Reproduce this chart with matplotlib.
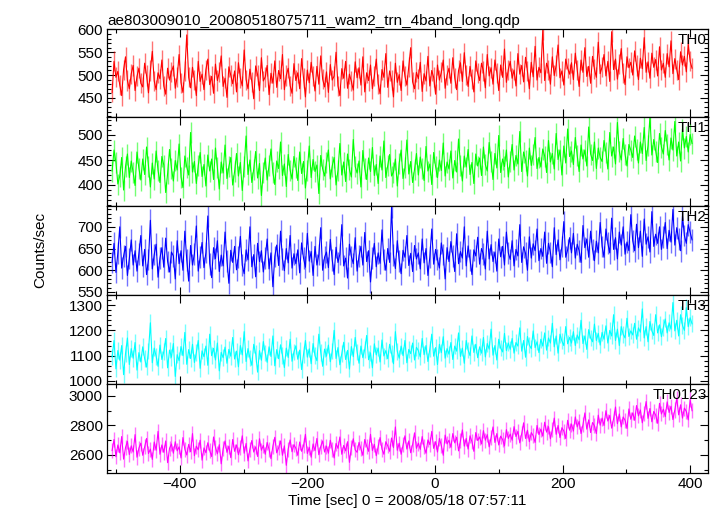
import numpy as np
import matplotlib
matplotlib.use("Agg")
import matplotlib.pyplot as plt
from matplotlib.ticker import MultipleLocator

plt.rcParams['font.family'] = ['Liberation Sans', 'DejaVu Sans']

title = "ae803009010_20080518075711_wam2_trn_4band_long.qdp"
xlabel = "Time [sec] 0 = 2008/05/18 07:57:11"
ylabel = "Counts/sec"
band_names = ["TH0", "TH1", "TH2", "TH3", "TH0123"]

# bin start time, bin step (sec)
t_first, t_step = -506, 3

th0 = [
    462, 530, 495, 508, 478, 455, 512, 540, 488, 470, 503, 521, 466, 497, 515, 482,
    474, 526, 499, 461, 510, 552, 487, 468, 505, 492, 533, 476, 458, 515, 489, 507,
    520, 471, 496, 545, 483, 462, 508, 588, 495, 472, 517, 490, 455, 530, 486, 502,
    468, 512, 535, 479, 497, 460, 524, 488, 506, 542, 475, 493, 451, 518, 499, 481,
    509, 463, 527, 494, 476, 555, 490, 470, 513, 485, 448, 520, 501, 466, 538, 487,
    496, 521, 457, 504, 482, 531, 473, 510, 492, 545, 468, 499, 515, 477, 460, 525,
    488, 505, 470, 536, 494, 452, 511, 483, 528, 497, 465, 519, 480, 542, 491, 474,
    507, 462, 523, 489, 498, 550, 476, 455, 514, 493, 530, 471, 502, 486, 467, 529,
    494, 516, 478, 540, 463, 505, 488, 522, 470, 498, 535, 481, 459, 512, 495, 547,
    473, 509, 490, 452, 526, 484, 501, 466, 531, 497, 478, 518, 560, 485, 470, 506,
    492, 528, 464, 503, 487, 541, 476, 510, 495, 458, 522, 489, 506, 533, 471, 500,
    515, 482, 538, 494, 468, 510, 527, 486, 549, 500, 475, 519, 492, 463, 531, 504,
    488, 526, 509, 472, 545, 498, 516, 480, 533, 505, 466, 522, 495, 557, 484, 512,
    530, 493, 511, 476, 547, 502, 521, 485, 539, 508, 470, 528, 496, 563, 489, 517,
    505, 598, 488, 526, 512, 480, 540, 499, 521, 566, 494, 509, 478, 535, 515, 502,
    527, 490, 548, 511, 475, 533, 506, 560, 497, 519, 482, 541, 513, 495, 572, 503,
    518, 545, 498, 530, 486, 595, 512, 535, 491, 524, 558, 505, 479, 540, 516, 528,
    500, 553, 521, 490, 537, 514, 582, 506, 529, 493, 548, 517, 534, 498, 562, 511,
    526, 495, 547, 518, 575, 503, 536, 512, 490, 551, 522, 541, 507, 568, 530, 515]

th1 = [
    428, 470, 445, 402, 418, 455, 390, 437, 462, 415, 448, 425, 399, 466, 433, 410,
    452, 421, 476, 438, 396, 444, 412, 468, 429, 405, 457, 440, 385, 423, 471, 434,
    408, 449, 430, 482, 416, 395, 458, 436, 420, 505, 426, 447, 403, 439, 465, 417,
    441, 398, 460, 428, 452, 411, 474, 435, 392, 446, 424, 480, 413, 437, 455, 400,
    427, 463, 418, 445, 389, 438, 498, 421, 450, 405, 432, 467, 414, 443, 379, 426,
    454, 410, 439, 472, 425, 401, 448, 433, 486, 419, 442, 397, 461, 430, 412, 457,
    436, 409, 466, 423, 447, 394, 430, 478, 415, 451, 427, 440, 383, 459, 432, 418,
    445, 470, 412, 438, 455, 400, 429, 483, 420, 446, 407, 462, 431, 416, 491, 437,
    424, 448, 396, 469, 433, 411, 454, 427, 475, 419, 441, 403, 458, 430, 488, 415,
    439, 461, 418, 426, 452, 398, 444, 470, 413, 435, 490, 422, 447, 405, 431, 463,
    420, 456, 433, 409, 477, 428, 442, 401, 465, 437, 415, 450, 429, 484, 418, 446,
    432, 468, 414, 449, 426, 492, 440, 408, 458, 436, 471, 421, 445, 403, 462, 438,
    454, 419, 476, 441, 428, 485, 447, 411, 463, 434, 499, 425, 452, 437, 470, 416,
    448, 481, 430, 459, 442, 507, 427, 466, 450, 418, 474, 439, 461, 495, 433, 455,
    436, 472, 458, 425, 489, 446, 463, 432, 503, 451, 470, 420, 478, 444, 512, 457,
    468, 441, 495, 459, 427, 480, 452, 470, 438, 516, 462, 449, 486, 433, 474, 455,
    447, 489, 465, 432, 505, 458, 476, 442, 525, 467, 450, 493, 461, 438, 481, 470,
    455, 498, 472, 444, 486, 463, 515, 449, 479, 536, 460, 491, 468, 445, 503, 476,
    462, 509, 481, 450, 494, 470, 527, 458, 486, 448, 512, 474, 497, 466, 501, 483]

th2 = [
    618, 662, 595, 640, 700, 605, 633, 655, 588, 627, 670, 612, 645, 598, 638, 680,
    610, 648, 590, 625, 715, 603, 636, 660, 584, 628, 652, 607, 674, 620, 596, 642,
    633, 580, 668, 615, 645, 600, 690, 624, 575, 657, 612, 638, 702, 598, 630, 664,
    606, 641, 725, 615, 583, 652, 627, 668, 597, 635, 610, 688, 622, 570, 646, 618,
    655, 601, 630, 678, 612, 592, 647, 624, 700, 608, 636, 585, 662, 620, 645, 596,
    628, 672, 603, 640, 562, 632, 658, 611, 690, 626, 599, 650, 617, 680, 605, 638,
    615, 647, 594, 663, 628, 607, 685, 621, 643, 588, 655, 612, 636, 698, 600, 630,
    642, 606, 671, 624, 590, 653, 618, 637, 705, 610, 628, 582, 660, 632, 615, 675,
    598, 633, 655, 612, 687, 620, 645, 573, 628, 662, 608, 640, 616, 693, 625, 600,
    650, 618, 745, 635, 604, 668, 622, 592, 646, 630, 680, 611, 639, 597, 657, 626,
    640, 603, 672, 617, 650, 588, 631, 695, 614, 648, 625, 605, 663, 636, 580, 652,
    620, 666, 633, 597, 684, 615, 643, 628, 700, 610, 656, 624, 590, 647, 633, 676,
    614, 650, 637, 603, 690, 626, 659, 620, 642, 598, 672, 631, 655, 612, 688, 640,
    625, 668, 610, 648, 633, 705, 618, 654, 639, 600, 677, 628, 661, 645, 695, 622,
    650, 632, 688, 616, 662, 641, 608, 698, 636, 670, 624, 655, 712, 630, 647, 675,
    640, 685, 628, 660, 645, 618, 703, 652, 672, 630, 690, 648, 622, 667, 640, 710,
    655, 630, 695, 662, 640, 720, 648, 675, 626, 688, 658, 700, 637, 665, 645, 728,
    668, 645, 706, 652, 690, 632, 718, 660, 677, 642, 735, 655, 683, 662, 700, 648,
    676, 710, 650, 692, 665, 740, 658, 698, 672, 645, 725, 680, 662, 705, 688, 670]

th3 = [
    1095, 1160, 1048, 1120, 1082, 1140, 1025, 1108, 1170, 1065, 1128, 1090, 1152, 1043, 1112, 1075,
    1135, 1088, 1055, 1118, 1230, 1072, 1130, 1098, 1058, 1142, 1085, 1116, 1168, 1052, 1122, 1094,
    1148, 1018, 1104, 1080, 1136, 1100, 1192, 1066, 1124, 1089, 1145, 1073, 1112, 1160, 1050, 1119,
    1096, 1138, 1062, 1185, 1100, 1129, 1083, 1150, 1040, 1113, 1092, 1134, 1070, 1125, 1098, 1172,
    1087, 1118, 1056, 1140, 1103, 1195, 1077, 1128, 1091, 1062, 1145, 1108, 1035, 1120, 1082, 1156,
    1110, 1074, 1135, 1097, 1178, 1060, 1124, 1088, 1143, 1102, 1053, 1130, 1093, 1165, 1078, 1115,
    1139, 1086, 1122, 1045, 1105, 1160, 1094, 1127, 1068, 1148, 1100, 1080, 1185, 1113, 1058, 1126,
    1098, 1142, 1076, 1118, 1200, 1089, 1132, 1064, 1109, 1153, 1085, 1121, 1047, 1136, 1096, 1172,
    1115, 1070, 1138, 1092, 1125, 1180, 1084, 1111, 1052, 1147, 1103, 1130, 1075, 1162, 1099, 1120,
    1088, 1145, 1109, 1068, 1195, 1117, 1090, 1138, 1100, 1160, 1072, 1125, 1108, 1150, 1083, 1133,
    1120, 1095, 1168, 1104, 1140, 1077, 1126, 1185, 1098, 1132, 1065, 1145, 1112, 1175, 1090, 1128,
    1106, 1152, 1085, 1138, 1118, 1190, 1097, 1130, 1070, 1160, 1122, 1100, 1178, 1113, 1145, 1092,
    1135, 1110, 1172, 1095, 1148, 1126, 1205, 1102, 1140, 1083, 1165, 1130, 1115, 1188, 1120, 1150,
    1125, 1168, 1110, 1152, 1138, 1210, 1118, 1160, 1094, 1176, 1142, 1128, 1198, 1132, 1155, 1112,
    1165, 1138, 1190, 1122, 1170, 1150, 1228, 1135, 1178, 1110, 1185, 1158, 1140, 1215, 1147, 1172,
    1150, 1195, 1140, 1182, 1163, 1240, 1148, 1178, 1125, 1203, 1170, 1155, 1225, 1160, 1188, 1142,
    1192, 1165, 1218, 1150, 1200, 1178, 1262, 1160, 1205, 1140, 1215, 1185, 1170, 1248, 1176, 1198,
    1182, 1228, 1165, 1210, 1193, 1285, 1170, 1215, 1155, 1235, 1198, 1180, 1262, 1190, 1222, 1175,
    1212, 1245, 1190, 1230, 1205, 1310, 1198, 1240, 1178, 1262, 1220, 1200, 1290, 1215, 1250, 1226]

th0123 = [
    2630, 2705, 2588, 2668, 2615, 2725, 2572, 2650, 2692, 2603, 2662, 2620, 2738, 2585, 2647, 2680,
    2598, 2655, 2712, 2610, 2640, 2570, 2688, 2632, 2760, 2605, 2668, 2618, 2695, 2548, 2645, 2675,
    2612, 2690, 2628, 2655, 2580, 2718, 2640, 2600, 2672, 2622, 2745, 2595, 2660, 2635, 2700, 2565,
    2648, 2615, 2683, 2630, 2590, 2722, 2652, 2608, 2670, 2540, 2642, 2695, 2618, 2660, 2582, 2705,
    2625, 2668, 2602, 2650, 2730, 2612, 2678, 2560, 2640, 2698, 2620, 2655, 2590, 2710, 2632, 2665,
    2605, 2685, 2638, 2575, 2660, 2720, 2615, 2648, 2695, 2598, 2662, 2530, 2640, 2702, 2622, 2670,
    2645, 2598, 2688, 2625, 2662, 2740, 2610, 2652, 2585, 2675, 2630, 2712, 2602, 2658, 2695, 2620,
    2660, 2612, 2700, 2638, 2580, 2678, 2645, 2722, 2605, 2665, 2628, 2690, 2550, 2652, 2710, 2635,
    2618, 2685, 2642, 2598, 2705, 2660, 2625, 2740, 2630, 2672, 2595, 2655, 2718, 2640, 2605, 2690,
    2662, 2625, 2715, 2650, 2790, 2632, 2680, 2605, 2668, 2730, 2640, 2695, 2615, 2672, 2750, 2645,
    2680, 2638, 2725, 2655, 2612, 2702, 2670, 2760, 2645, 2690, 2620, 2712, 2665, 2598, 2735, 2675,
    2700, 2652, 2745, 2682, 2720, 2628, 2695, 2770, 2660, 2712, 2640, 2730, 2690, 2625, 2752, 2698,
    2722, 2675, 2765, 2700, 2738, 2655, 2718, 2790, 2685, 2745, 2668, 2728, 2705, 2662, 2772, 2712,
    2742, 2700, 2792, 2725, 2760, 2682, 2745, 2818, 2712, 2768, 2690, 2752, 2730, 2685, 2800, 2738,
    2775, 2728, 2822, 2755, 2792, 2710, 2770, 2850, 2740, 2800, 2718, 2785, 2762, 2712, 2835, 2768,
    2810, 2762, 2858, 2790, 2828, 2745, 2805, 2885, 2775, 2838, 2752, 2820, 2798, 2745, 2870, 2802,
    2850, 2800, 2900, 2830, 2868, 2782, 2845, 2925, 2812, 2878, 2790, 2858, 2835, 2780, 2912, 2842,
    2885, 2835, 2935, 2865, 2905, 2818, 2880, 2962, 2848, 2915, 2825, 2895, 2870, 2815, 2950, 2878,
    2910, 2860, 2960, 2888, 2930, 2840, 2905, 2985, 2872, 2940, 2850, 2918, 2895, 2838, 2975, 2900]

# typical 1-sigma error per band
band_errors = [22, 21, 25, 33, 51]

series = [th0, th1, th2, th3, th0123]
colors = ["#ff0000", "#00ff00", "#0000ff", "#00ffff", "#ff00ff"]
ylims = [(408, 601), (358, 536), (543, 748), (988, 1340), (2478, 3081)]
ymajor = [50, 50, 50, 100, 200]
yminor = [10, 10, 10, 20, 100]

W, H = 720, 516
fig = plt.figure(figsize=(W / 100, H / 100), dpi=100)
left, right = 107 / W, 708 / W
edges = [29, 117, 206, 295, 384, 473]

axes = []
for i in range(5):
    top = 1 - edges[i] / H
    bot = 1 - edges[i + 1] / H
    ax = fig.add_axes([left, bot, right - left, top - bot])
    axes.append(ax)
    y = np.array(series[i], dtype=float)
    t = t_first + t_step * np.arange(len(y))
    err = band_errors[i]
    ax.vlines(t, y - err, y + err, color=colors[i], lw=1.0, alpha=0.55)
    ax.plot(t, y, color=colors[i], lw=0.8)
    ax.set_xlim(-514, 428)
    ax.set_ylim(*ylims[i])
    ax.xaxis.set_major_locator(MultipleLocator(200))
    ax.xaxis.set_minor_locator(MultipleLocator(100))
    ax.yaxis.set_major_locator(MultipleLocator(ymajor[i]))
    ax.yaxis.set_minor_locator(MultipleLocator(yminor[i]))
    ax.tick_params(which='both', direction='in', top=True, right=True,
                   labelsize=11, width=0.8, pad=3)
    ax.tick_params(which='major', length=6)
    ax.tick_params(which='minor', length=3)
    if i < 4:
        ax.tick_params(labelbottom=False)
    for sp in ax.spines.values():
        sp.set_linewidth(0.9)
    ax.text(0.998, 0.95, band_names[i], transform=ax.transAxes,
            ha='right', va='top', fontsize=11)

axes[0].set_title(title, loc='left', fontsize=11, pad=3)
axes[-1].set_xlabel(xlabel, fontsize=11, labelpad=2)
fig.text(40 / W, 1 - 250 / H, ylabel, rotation=90, ha='center', va='center',
         fontsize=11)

fig.savefig("out.png", dpi=100)
